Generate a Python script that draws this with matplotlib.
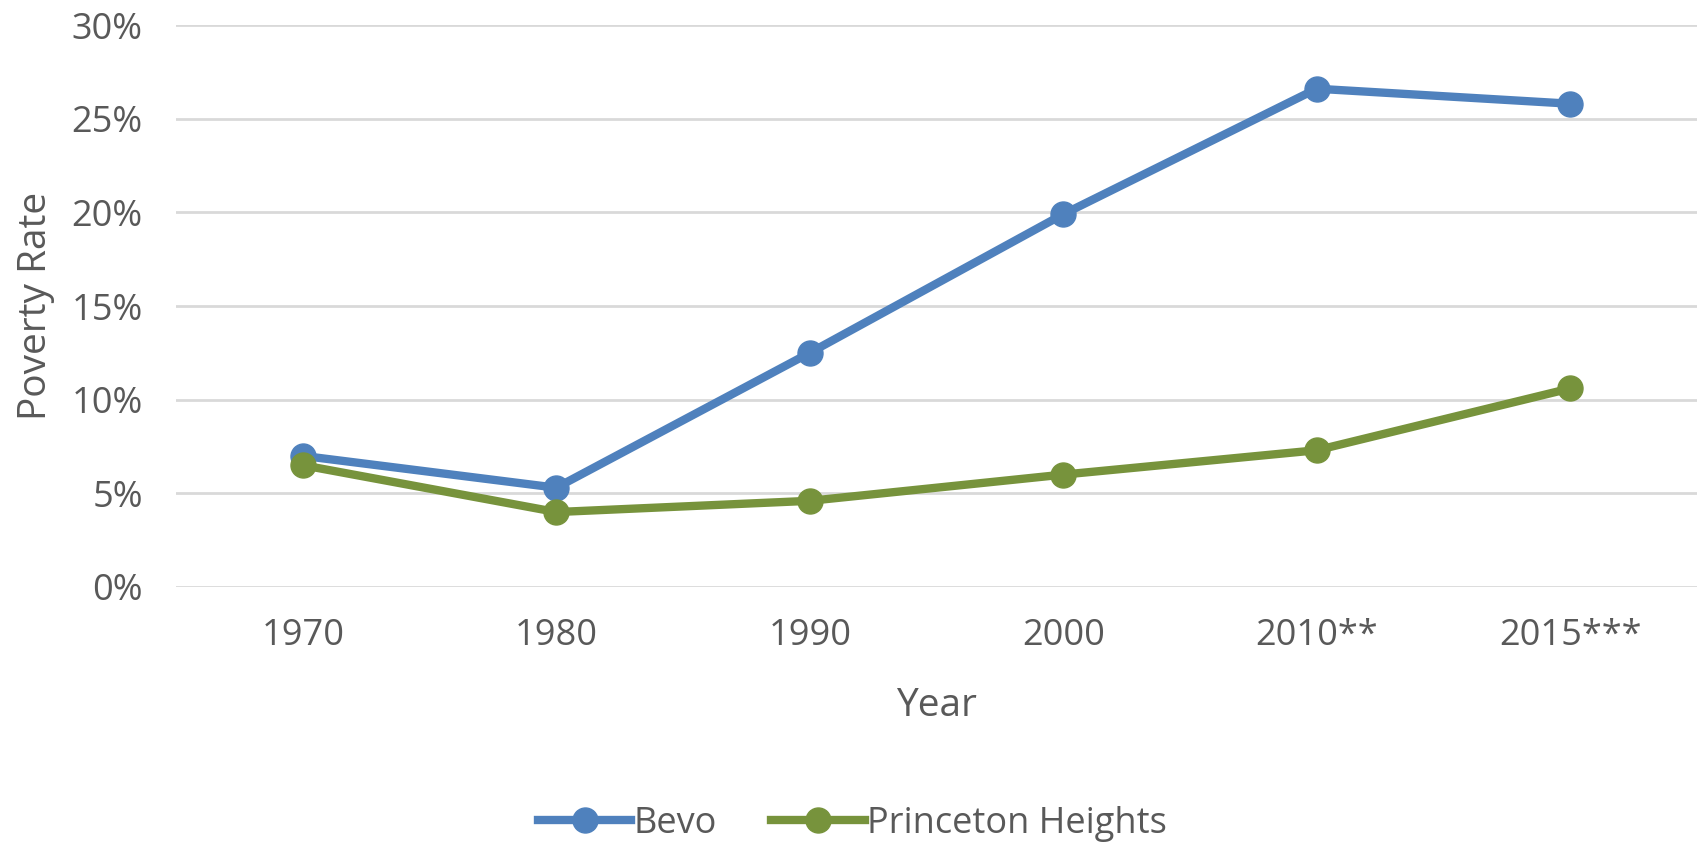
import matplotlib
matplotlib.use("Agg")
import matplotlib.pyplot as plt
from matplotlib.ticker import FuncFormatter

# Data
years = ["1970", "1980", "1990", "2000", "2010**", "2015***"]
bevo = [0.070, 0.053, 0.125, 0.199, 0.266, 0.258]
princeton = [0.065, 0.040, 0.046, 0.060, 0.073, 0.106]

BLUE = "#4F81BD"
GREEN = "#77933C"
GREY_TEXT = "#595959"
GRID = "#D9D9D9"

plt.rcParams['font.family'] = ['Open Sans', 'DejaVu Sans']

fig = plt.figure(figsize=(17.04, 8.43), dpi=100)
ax = fig.add_axes([0.1033, 0.3037, 0.8926, 0.6666])

x = list(range(len(years)))
ax.plot(x, bevo, color=BLUE, lw=6, marker="o", ms=18, label="Bevo", zorder=3)
ax.plot(x, princeton, color=GREEN, lw=6, marker="o", ms=18, label="Princeton Heights", zorder=3)

ax.set_xlim(-0.5, len(years) - 0.5)
ax.set_ylim(0, 0.30)
ax.set_yticks([0, 0.05, 0.10, 0.15, 0.20, 0.25, 0.30])
ax.yaxis.set_major_formatter(FuncFormatter(lambda v, p: f"{v*100:.0f}%"))
ax.set_xticks(x)
ax.set_xticklabels(years)

ax.grid(axis="y", color=GRID, lw=2)
ax.set_axisbelow(True)
for s in ax.spines.values():
    s.set_visible(False)
ax.tick_params(length=0, labelsize=26, labelcolor=GREY_TEXT)
ax.tick_params(axis="y", pad=24)
ax.tick_params(axis="x", pad=22)

ax.set_xlabel("Year", fontsize=28, color=GREY_TEXT, labelpad=24)
ax.set_ylabel("Poverty Rate", fontsize=28, color=GREY_TEXT, labelpad=12)

fig.legend(loc="center", bbox_to_anchor=(0.5, 1 - 824 / 843), ncol=2,
           frameon=False, fontsize=26, labelcolor=GREY_TEXT, handlelength=2.6,
           handletextpad=0.05, columnspacing=1.5, markerscale=1.0)

fig.savefig("out.png", dpi=100)
